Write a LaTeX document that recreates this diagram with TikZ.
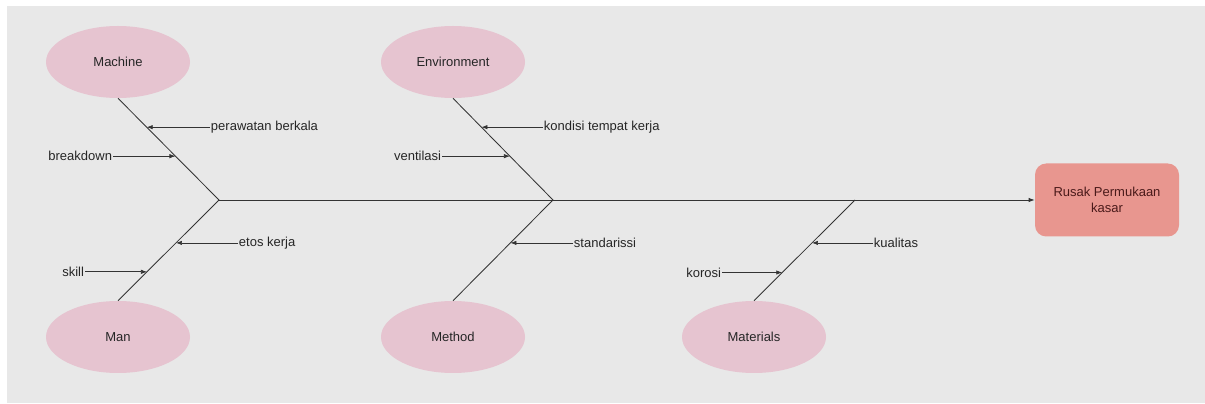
\documentclass[tikz,border=0pt]{standalone}
\usepackage{fontspec}
\setmainfont{Liberation Sans}
\usetikzlibrary{calc, shapes.geometric, arrows.meta}

\definecolor{bgGrey}{HTML}{E8E8E8}
\definecolor{boneLine}{HTML}{333333}
\definecolor{causePink}{HTML}{E6C4D0}
\definecolor{effectRed}{HTML}{E8968F}
\definecolor{effectText}{HTML}{4A1A1A}

\begin{document}
\begin{tikzpicture}[
        font=\fontsize{9.25}{11}\selectfont,
        cause/.style={ellipse, fill=causePink, minimum width=3.6cm, minimum height=1.8cm, text=black!85},
        bone/.style={draw=boneLine, line width=0.6pt},
        sub/.style={draw=boneLine, line width=0.5pt, -{Latex[length=1.5mm, width=1.1mm]}},
        lbl/.style={inner sep=0.5pt, text=black!85}
    ]
            \useasboundingbox (0,0) rectangle (30.125,10.1);
            \fill[white] (0,0) rectangle (30.125,10.1);
            \fill[bgGrey] (0.175,0.025) rectangle (30.125,9.95);

            \node[cause] (machine) at (2.95,8.55) {Machine};
            \node[cause] (man) at (2.95,1.675) {Man};
            \node[cause] (environment) at (11.325,8.55) {Environment};
            \node[cause] (method) at (11.325,1.675) {Method};
            \node[cause] (materials) at (18.85,1.675) {Materials};

            \node[rectangle, rounded corners=0.28cm, fill=effectRed, minimum width=3.6cm, minimum height=1.825cm,
                align=center, text=effectText] (rusak) at (27.675,5.1) {Rusak Permukaan\\kasar};

            \coordinate (a) at (5.475,5.1);
            \coordinate (b) at (13.825,5.1);
            \coordinate (c) at (21.375,5.1);

            \draw[bone, -{Latex[length=1.5mm, width=1.1mm]}] (a) -- (rusak.west);
            \draw[bone] (machine.south) -- (a) -- (man.north);
            \draw[bone] (environment.south) -- (b) -- (method.north);
            \draw[bone] (c) -- (materials.north);

            \coordinate (p1) at ($(machine.south)!0.284!(a)$);
            \coordinate (p2) at ($(machine.south)!0.569!(a)$);
            \coordinate (p3) at ($(a)!0.426!(man.north)$);
            \coordinate (p4) at ($(a)!0.713!(man.north)$);
            \coordinate (p5) at ($(environment.south)!0.284!(b)$);
            \coordinate (p6) at ($(environment.south)!0.569!(b)$);
            \coordinate (p7) at ($(b)!0.426!(method.north)$);
            \coordinate (p8) at ($(c)!0.426!(materials.north)$);
            \coordinate (p9) at ($(c)!0.72!(materials.north)$);

            \node[lbl, anchor=west] (perawatan) at (5.25,0 |- p1) {perawatan berkala};
            \node[lbl, anchor=east] (breakdown) at (2.825,0 |- p2) {breakdown};
            \node[lbl, anchor=west] (etos) at (5.95,0 |- p3) {etos kerja};
            \node[lbl, anchor=east] (skill) at (2.125,0 |- p4) {skill};
            \node[lbl, anchor=west] (kondisi) at (13.575,0 |- p5) {kondisi tempat kerja};
            \node[lbl, anchor=east] (ventilasi) at (11.05,0 |- p6) {ventilasi};
            \node[lbl, anchor=west] (standarissi) at (14.325,0 |- p7) {standarissi};
            \node[lbl, anchor=west] (kualitas) at (21.825,0 |- p8) {kualitas};
            \node[lbl, anchor=east] (korosi) at (18.05,0 |- p9) {korosi};

            \draw[sub] (perawatan.west) -- (p1);
            \draw[sub] (breakdown.east) -- (p2);
            \draw[sub] (etos.west) -- (p3);
            \draw[sub] (skill.east) -- (p4);
            \draw[sub] (kondisi.west) -- (p5);
            \draw[sub] (ventilasi.east) -- (p6);
            \draw[sub] (standarissi.west) -- (p7);
            \draw[sub] (kualitas.west) -- (p8);
            \draw[sub] (korosi.east) -- (p9);

        \end{tikzpicture}
\end{document}
